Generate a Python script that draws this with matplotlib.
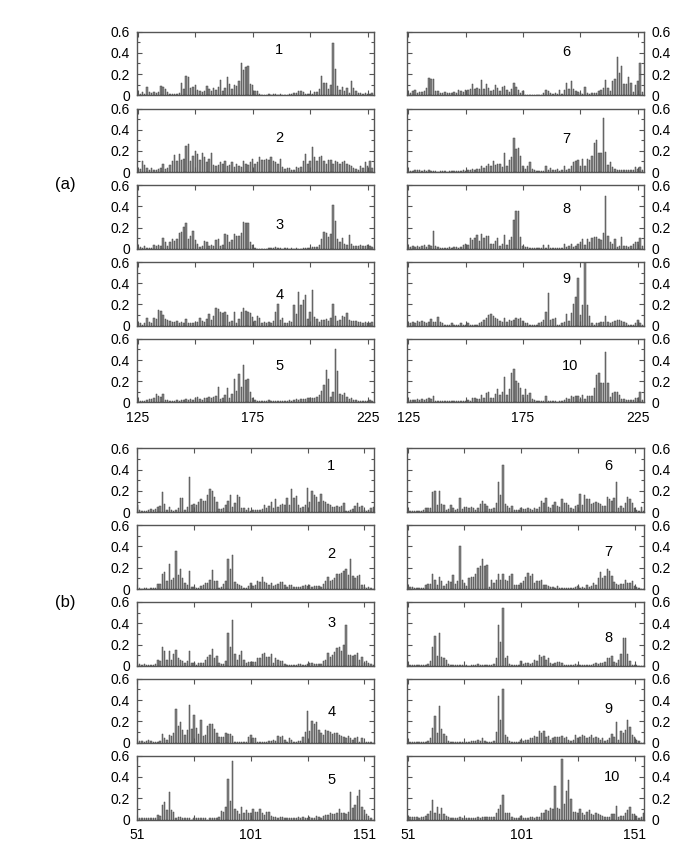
import numpy as np
import matplotlib.pyplot as plt
from matplotlib.ticker import MultipleLocator

plt.rcParams['font.family'] = ['Liberation Sans', 'DejaVu Sans']

# --- data: values x 100, one bar per residue ---
A_START = 125   # panel (a): residues 125..227
B_START = 51    # panel (b): residues 51..155

a1 = [1, 1, 3, 1, 8, 3, 2, 3, 2, 3,
      9, 8, 6, 3, 1, 1, 1, 1, 2, 12,
      6, 18, 17, 7, 8, 10, 5, 4, 3, 4,
      9, 6, 4, 7, 5, 8, 14, 4, 7, 17,
      11, 6, 10, 9, 13, 30, 24, 27, 28, 11,
      10, 4, 4, 1, 0, 0, 0, 1, 0, 1,
      1, 0, 1, 0, 0, 0, 1, 1, 2, 2,
      4, 4, 3, 1, 1, 1, 1, 3, 3, 6,
      18, 12, 12, 6, 10, 49, 25, 9, 5, 8,
      4, 7, 2, 13, 7, 4, 2, 2, 1, 2,
      1, 1, 2]
a2 = [3, 3, 10, 7, 4, 2, 4, 2, 2, 3,
      4, 8, 3, 4, 7, 10, 16, 10, 17, 11,
      12, 25, 26, 10, 15, 20, 17, 11, 18, 14,
      9, 12, 18, 7, 6, 7, 9, 8, 10, 6,
      7, 9, 5, 8, 6, 5, 10, 8, 7, 9,
      12, 8, 9, 14, 11, 11, 12, 11, 14, 10,
      9, 8, 12, 5, 3, 4, 4, 2, 2, 5,
      4, 5, 10, 17, 8, 10, 24, 14, 10, 14,
      15, 10, 8, 11, 11, 8, 10, 9, 8, 9,
      10, 8, 7, 6, 4, 3, 2, 6, 4, 9,
      6, 10, 4]
a3 = [1, 2, 1, 3, 1, 1, 1, 4, 3, 4,
      3, 10, 6, 3, 6, 9, 7, 9, 15, 16,
      21, 24, 9, 12, 17, 8, 5, 2, 3, 7,
      6, 3, 4, 3, 8, 9, 3, 4, 14, 13,
      6, 8, 14, 12, 12, 15, 25, 24, 24, 6,
      4, 1, 0, 0, 0, 0, 0, 1, 1, 1,
      2, 1, 1, 0, 1, 1, 0, 1, 0, 1,
      0, 0, 1, 1, 1, 1, 2, 2, 2, 4,
      9, 16, 15, 11, 14, 41, 26, 9, 6, 10,
      5, 4, 13, 5, 3, 3, 3, 4, 3, 3,
      4, 3, 2]
a4 = [2, 2, 1, 2, 7, 3, 2, 7, 6, 15,
      14, 10, 6, 5, 4, 3, 3, 4, 2, 3,
      2, 6, 2, 2, 2, 3, 3, 7, 4, 3,
      6, 11, 5, 9, 17, 16, 13, 12, 13, 10,
      3, 4, 13, 2, 6, 13, 17, 14, 13, 12,
      8, 4, 9, 7, 2, 3, 2, 3, 2, 4,
      13, 20, 5, 7, 2, 2, 4, 3, 19, 11,
      32, 19, 24, 29, 6, 13, 34, 8, 6, 3,
      5, 5, 6, 4, 7, 20, 9, 4, 5, 9,
      8, 12, 5, 4, 4, 4, 3, 3, 2, 3,
      2, 2, 3]
a5 = [1, 1, 1, 1, 2, 3, 3, 4, 8, 6,
      5, 8, 2, 2, 1, 1, 1, 2, 1, 2,
      2, 3, 2, 3, 2, 4, 5, 3, 2, 4,
      4, 5, 4, 5, 6, 15, 3, 4, 7, 14,
      4, 8, 22, 11, 27, 15, 35, 21, 22, 10,
      4, 2, 1, 1, 1, 1, 1, 2, 1, 1,
      1, 1, 1, 1, 1, 1, 2, 1, 2, 3,
      2, 3, 3, 3, 4, 4, 4, 4, 5, 7,
      11, 16, 31, 22, 5, 10, 50, 30, 8, 7,
      9, 5, 3, 4, 2, 2, 1, 1, 1, 1,
      1, 2, 1]
a6 = [1, 2, 4, 5, 2, 3, 3, 4, 7, 16,
      15, 15, 4, 4, 2, 2, 3, 2, 2, 2,
      3, 2, 5, 4, 3, 5, 5, 6, 11, 6,
      7, 6, 14, 6, 11, 7, 4, 5, 10, 7,
      4, 8, 9, 5, 3, 6, 12, 8, 5, 2,
      4, 0, 0, 0, 0, 0, 0, 0, 0, 2,
      5, 4, 2, 1, 2, 1, 5, 1, 5, 12,
      6, 13, 6, 4, 3, 2, 1, 8, 2, 1,
      2, 2, 2, 4, 5, 7, 14, 7, 4, 13,
      15, 36, 21, 28, 11, 11, 17, 12, 3, 10,
      13, 30, 3]
a7 = [1, 1, 1, 2, 2, 2, 1, 2, 1, 2,
      1, 1, 1, 0, 1, 1, 1, 0, 1, 1,
      1, 1, 1, 1, 2, 1, 2, 2, 3, 2,
      3, 3, 6, 4, 6, 8, 6, 10, 7, 8,
      8, 5, 18, 6, 11, 14, 32, 22, 23, 15,
      6, 3, 6, 9, 3, 2, 1, 1, 1, 1,
      6, 2, 4, 2, 2, 3, 1, 2, 6, 2,
      3, 6, 9, 10, 11, 6, 12, 6, 12, 11,
      15, 27, 30, 18, 18, 51, 19, 7, 9, 5,
      3, 2, 2, 2, 2, 2, 2, 2, 2, 5,
      3, 5, 2]
a8 = [2, 2, 3, 2, 3, 2, 3, 4, 2, 4,
      3, 17, 3, 2, 1, 1, 1, 1, 2, 1,
      2, 2, 1, 2, 4, 5, 4, 10, 8, 10,
      13, 7, 14, 10, 12, 12, 5, 5, 7, 10,
      3, 5, 13, 4, 8, 11, 27, 36, 36, 11,
      3, 2, 2, 1, 1, 1, 1, 1, 1, 4,
      1, 4, 1, 1, 1, 1, 1, 1, 5, 2,
      3, 5, 2, 3, 5, 6, 9, 4, 9, 6,
      10, 11, 11, 9, 8, 15, 50, 12, 6, 5,
      9, 2, 3, 11, 3, 3, 2, 3, 5, 6,
      6, 10, 3]
a9 = [2, 2, 3, 2, 4, 3, 4, 3, 2, 3,
      6, 3, 3, 8, 3, 2, 1, 1, 1, 2,
      1, 1, 1, 2, 1, 1, 2, 1, 1, 1,
      1, 2, 3, 5, 7, 10, 11, 9, 7, 6,
      4, 3, 7, 3, 5, 4, 5, 7, 6, 7,
      4, 2, 2, 1, 1, 1, 1, 2, 3, 5,
      13, 31, 5, 6, 7, 1, 1, 2, 3, 11,
      4, 12, 20, 27, 45, 10, 19, 60, 19, 9,
      2, 1, 2, 2, 3, 3, 9, 3, 2, 3,
      4, 5, 5, 4, 3, 2, 1, 1, 1, 2,
      5, 2, 1]
a10 = [1, 2, 2, 2, 3, 2, 3, 2, 3, 4,
       3, 6, 1, 1, 1, 1, 1, 1, 1, 1,
       1, 1, 1, 1, 1, 1, 2, 1, 4, 4,
       3, 3, 7, 4, 9, 10, 4, 4, 8, 13,
       7, 10, 24, 7, 13, 28, 32, 20, 18, 14,
       7, 13, 7, 9, 3, 2, 1, 1, 1, 1,
       6, 1, 1, 1, 1, 0, 1, 1, 2, 4,
       3, 6, 5, 6, 6, 3, 7, 3, 6, 6,
       6, 14, 26, 28, 18, 18, 48, 18, 5, 9,
       10, 10, 7, 3, 3, 2, 2, 2, 2, 4,
       4, 10, 2]

b1 = [7, 2, 1, 1, 1, 2, 3, 2, 3, 5,
      6, 19, 8, 2, 5, 2, 1, 2, 4, 13,
      13, 2, 5, 33, 7, 8, 7, 10, 12, 11,
      11, 16, 22, 20, 14, 10, 3, 3, 4, 7,
      11, 16, 5, 9, 16, 14, 4, 4, 2, 4,
      1, 2, 2, 2, 2, 3, 7, 4, 6, 10,
      4, 12, 5, 7, 8, 7, 13, 7, 22, 13,
      15, 7, 4, 5, 7, 23, 10, 20, 16, 14,
      10, 17, 11, 10, 8, 7, 5, 5, 6, 5,
      6, 9, 1, 1, 2, 3, 6, 9, 5, 6,
      2, 1, 2, 4, 5]
b2 = [0, 1, 0, 1, 1, 0, 1, 1, 1, 5,
      5, 14, 16, 8, 24, 9, 10, 36, 13, 19,
      10, 6, 4, 17, 2, 2, 1, 1, 3, 4,
      6, 6, 9, 18, 8, 8, 1, 2, 5, 8,
      28, 19, 32, 7, 5, 4, 3, 1, 1, 3,
      6, 3, 4, 8, 7, 11, 7, 6, 4, 6,
      3, 4, 5, 7, 7, 4, 2, 4, 4, 2,
      2, 2, 2, 3, 4, 3, 4, 2, 3, 3,
      3, 2, 5, 8, 11, 8, 9, 10, 14, 14,
      15, 17, 19, 13, 28, 12, 10, 12, 13, 4,
      2, 1, 2, 1, 0]
b3 = [1, 2, 1, 2, 1, 1, 1, 1, 2, 6,
      5, 18, 14, 6, 14, 6, 11, 15, 7, 6,
      5, 3, 5, 14, 3, 3, 1, 3, 3, 3,
      6, 8, 10, 16, 7, 9, 3, 2, 2, 5,
      31, 18, 43, 11, 6, 10, 14, 6, 3, 4,
      4, 4, 4, 7, 7, 11, 12, 8, 8, 11,
      3, 7, 6, 5, 5, 2, 1, 1, 1, 1,
      1, 2, 2, 1, 1, 2, 3, 3, 2, 2,
      2, 2, 5, 6, 12, 8, 10, 13, 17, 18,
      14, 20, 38, 10, 10, 9, 10, 12, 6, 8,
      3, 5, 3, 2, 1]
b4 = [1, 2, 2, 1, 2, 3, 2, 1, 1, 1,
      2, 8, 4, 3, 7, 6, 9, 32, 16, 19,
      12, 7, 12, 35, 13, 26, 14, 8, 21, 6,
      7, 16, 18, 18, 13, 9, 5, 5, 5, 9,
      8, 8, 6, 1, 1, 1, 1, 1, 1, 5,
      7, 4, 4, 1, 1, 1, 1, 1, 2, 2,
      3, 2, 6, 5, 6, 3, 1, 4, 3, 1,
      1, 2, 2, 5, 10, 30, 11, 20, 18, 19,
      12, 9, 7, 12, 11, 10, 8, 9, 9, 7,
      6, 5, 4, 6, 4, 3, 4, 5, 1, 4,
      1, 1, 1, 1, 0]
b5 = [1, 1, 1, 1, 1, 1, 1, 1, 1, 4,
      3, 14, 16, 9, 26, 9, 7, 1, 2, 2,
      1, 1, 1, 1, 0, 1, 1, 1, 1, 1,
      1, 0, 1, 1, 1, 1, 2, 8, 7, 12,
      38, 17, 55, 10, 8, 5, 12, 6, 9, 6,
      6, 10, 7, 7, 10, 6, 4, 7, 7, 3,
      2, 2, 1, 2, 2, 1, 1, 1, 1, 1,
      1, 2, 1, 2, 1, 1, 2, 1, 1, 3,
      2, 1, 3, 4, 4, 6, 5, 5, 6, 10,
      6, 6, 5, 7, 26, 11, 14, 22, 28, 12,
      9, 5, 3, 1, 0]
b6 = [1, 1, 1, 1, 1, 1, 1, 2, 4, 4,
      4, 19, 20, 7, 20, 8, 7, 2, 3, 7,
      4, 2, 3, 13, 3, 5, 5, 4, 5, 4,
      2, 4, 8, 11, 8, 6, 3, 3, 4, 9,
      28, 16, 44, 8, 6, 4, 6, 2, 2, 2,
      4, 3, 3, 4, 3, 2, 4, 3, 5, 11,
      9, 13, 5, 4, 7, 10, 6, 5, 12, 9,
      9, 7, 4, 3, 6, 7, 17, 7, 16, 12,
      12, 8, 9, 10, 9, 8, 6, 6, 14, 12,
      11, 13, 28, 4, 6, 4, 9, 14, 12, 9,
      4, 2, 1, 5, 1]
b7 = [1, 2, 2, 1, 1, 1, 1, 1, 4, 5,
      5, 14, 9, 4, 11, 8, 3, 5, 8, 7,
      13, 5, 8, 40, 9, 6, 3, 10, 11, 11,
      14, 20, 22, 28, 22, 23, 2, 9, 6, 9,
      14, 9, 14, 9, 8, 12, 14, 4, 4, 4,
      6, 8, 11, 15, 12, 14, 6, 8, 8, 9,
      4, 4, 3, 2, 2, 1, 3, 1, 1, 1,
      1, 1, 1, 1, 2, 3, 1, 2, 1, 4,
      2, 3, 6, 4, 10, 16, 10, 12, 19, 17,
      12, 7, 5, 4, 5, 5, 9, 6, 6, 8,
      3, 2, 1, 0, 0]
b8 = [1, 1, 1, 1, 1, 1, 1, 1, 1, 2,
      5, 18, 28, 9, 31, 8, 7, 6, 2, 1,
      1, 1, 1, 1, 1, 1, 1, 0, 1, 1,
      1, 2, 1, 1, 1, 1, 1, 1, 2, 7,
      38, 22, 54, 7, 9, 2, 1, 1, 1, 1,
      5, 2, 3, 3, 2, 3, 6, 5, 10, 8,
      9, 6, 7, 3, 2, 3, 4, 4, 3, 1,
      1, 1, 1, 1, 2, 1, 1, 1, 1, 1,
      1, 1, 2, 3, 2, 3, 3, 4, 7, 7,
      9, 4, 3, 6, 11, 26, 26, 11, 5, 1,
      1, 1, 0, 0, 0]
b9 = [1, 1, 1, 1, 1, 1, 1, 1, 1, 2,
      4, 14, 25, 9, 34, 13, 8, 6, 2, 1,
      1, 1, 1, 1, 1, 1, 1, 1, 2, 2,
      2, 3, 2, 4, 2, 1, 1, 1, 2, 10,
      44, 21, 50, 7, 5, 2, 1, 1, 1, 1,
      3, 2, 3, 3, 4, 4, 6, 5, 11, 9,
      11, 5, 6, 3, 4, 5, 5, 5, 6, 4,
      5, 3, 2, 3, 7, 4, 5, 7, 6, 4,
      5, 7, 4, 5, 4, 3, 4, 2, 3, 4,
      8, 5, 19, 3, 11, 9, 12, 21, 15, 7,
      5, 3, 2, 0, 0]
b10 = [2, 2, 2, 2, 2, 1, 2, 2, 3, 5,
       8, 18, 6, 12, 5, 11, 5, 3, 2, 1,
       1, 1, 1, 2, 1, 1, 1, 1, 1, 1,
       1, 2, 1, 2, 2, 2, 2, 2, 2, 6,
       10, 14, 23, 6, 6, 6, 2, 1, 1, 1,
       3, 1, 1, 1, 2, 2, 1, 2, 2, 6,
       6, 9, 8, 11, 10, 31, 11, 10, 57, 15,
       27, 37, 19, 7, 7, 6, 10, 6, 4, 7,
       9, 5, 4, 6, 5, 4, 3, 2, 2, 2,
       5, 5, 13, 2, 3, 3, 6, 9, 12, 5,
       5, 3, 1, 2, 6]

panels_a = [a1, a2, a3, a4, a5, a6, a7, a8, a9, a10]
panels_b = [b1, b2, b3, b4, b5, b6, b7, b8, b9, b10]
panel_names = ['1', '2', '3', '4', '5', '6', '7', '8', '9', '10']

a_ticks = [125, 150, 175, 200, 225]
a_ticklabels = ['125', '', '175', '', '225']
b_ticks = [51, 76, 101, 126, 151]
b_ticklabels = ['51', '', '101', '', '151']

# label positions (axes fraction) for the panel numbers
a_num_pos = [(0.60, 0.71), (0.60, 0.53), (0.60, 0.37), (0.60, 0.48), (0.60, 0.58),
             (0.67, 0.68), (0.67, 0.52), (0.67, 0.63), (0.67, 0.73), (0.685, 0.58)]
b_num_pos = [(0.82, 0.72), (0.82, 0.55), (0.82, 0.67), (0.82, 0.48), (0.82, 0.62),
             (0.847, 0.72), (0.847, 0.58), (0.847, 0.43), (0.847, 0.53), (0.865, 0.67)]

# --- layout in pixels ---
W, H = 685, 849
AX_W = 237
COL_X = [137, 407.3]
A_TOP, A_H = 31.7, 63.5
B_TOP, B_H = 448.3, 64.0
ROW_STEP = 76.8

fig = plt.figure(figsize=(W / 100, H / 100), dpi=100)
gray = '#555555'


def make_axes(left, top, h):
    return fig.add_axes([left / W, 1 - (top + h) / H, AX_W / W, h / H])


def draw_block(panels, start, top0, h, xlim, ticks, ticklabels, num_pos):
    for i, vals in enumerate(panels):
        col = i // 5
        row = i % 5
        ax = make_axes(COL_X[col], top0 + row * ROW_STEP, h)
        x = np.arange(start, start + len(vals))
        y = np.array(vals) / 100.0
        ax.bar(x, y, width=0.6, color='#858585', edgecolor='#444444', linewidth=0.35)
        ax.set_xlim(*xlim)
        ax.set_ylim(0, 0.6)
        ax.set_xticks(ticks)
        ax.set_yticks([0, 0.2, 0.4, 0.6])
        ax.set_yticklabels(['0', '0.2', '0.4', '0.6'])
        ax.yaxis.set_minor_locator(MultipleLocator(0.1))
        ax.tick_params(which='both', direction='in', top=True, right=True,
                       color=gray, width=0.8, labelsize=10)
        ax.tick_params(axis='y', pad=5)
        ax.tick_params(axis='x', pad=6)
        ax.tick_params(which='major', length=3.5)
        ax.tick_params(which='minor', length=2)
        if row == 4:
            ax.set_xticklabels(ticklabels)
        else:
            ax.set_xticklabels([])
        if col == 1:
            ax.tick_params(labelleft=False, labelright=True)
        for sp in ax.spines.values():
            sp.set_color(gray)
            sp.set_linewidth(1.0)
        tx, ty = num_pos[i]
        ax.text(tx, ty, panel_names[i], transform=ax.transAxes,
                ha='center', va='center', fontsize=10.5)


draw_block(panels_a, A_START, A_TOP, A_H, (124.6, 227.8), a_ticks, a_ticklabels, a_num_pos)
draw_block(panels_b, B_START, B_TOP, B_H, (50.8, 155.3), b_ticks, b_ticklabels, b_num_pos)

fig.text(65 / W, 1 - 185 / H, '(a)', ha='center', va='center', fontsize=12)
fig.text(65 / W, 1 - 602 / H, '(b)', ha='center', va='center', fontsize=12)

fig.savefig('out.png', dpi=100)
